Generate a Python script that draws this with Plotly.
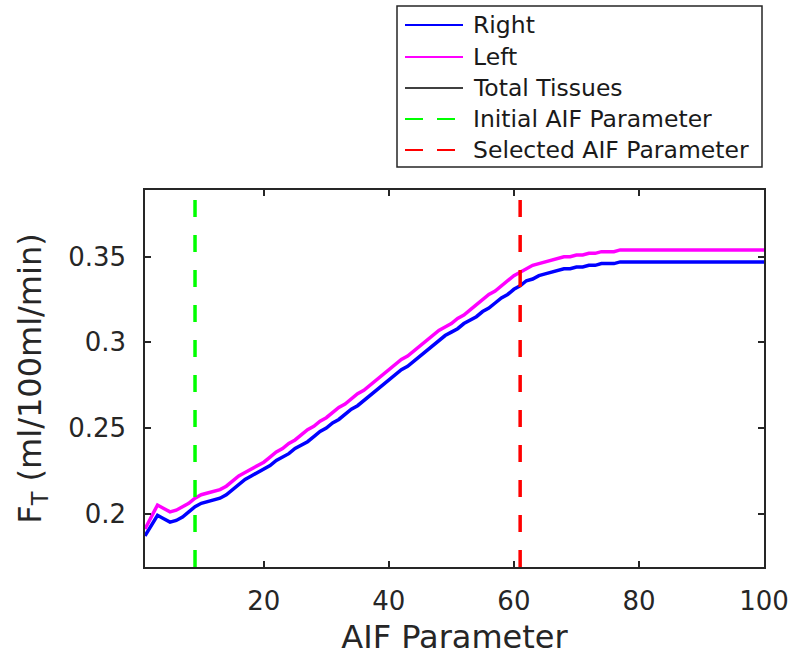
import plotly.graph_objects as go

# AIF parameter sweep
aif_param = list(range(1, 101))

# Flow estimates F_T for each hemisphere (ml/100ml/min)
right_ft = [
    0.187, 0.193, 0.199, 0.197, 0.195, 0.196, 0.198, 0.201, 0.204, 0.206,
    0.207, 0.208, 0.209, 0.211, 0.214, 0.217, 0.220, 0.222, 0.224, 0.226,
    0.228, 0.231, 0.233, 0.235, 0.238, 0.240, 0.242, 0.245, 0.248, 0.250,
    0.253, 0.255, 0.258, 0.261, 0.263, 0.266, 0.269, 0.272, 0.275, 0.278,
    0.281, 0.284, 0.286, 0.289, 0.292, 0.295, 0.298, 0.301, 0.304, 0.306,
    0.308, 0.311, 0.313, 0.315, 0.318, 0.320, 0.323, 0.326, 0.328, 0.331,
    0.333, 0.336, 0.337, 0.339, 0.340, 0.341, 0.342, 0.343, 0.343, 0.344,
    0.344, 0.345, 0.345, 0.346, 0.346, 0.346, 0.347, 0.347, 0.347, 0.347,
    0.347, 0.347, 0.347, 0.347, 0.347, 0.347, 0.347, 0.347, 0.347, 0.347,
    0.347, 0.347, 0.347, 0.347, 0.347, 0.347, 0.347, 0.347, 0.347, 0.347,
]
left_ft = [
    0.191, 0.198, 0.205, 0.203, 0.201, 0.202, 0.204, 0.206, 0.209, 0.211,
    0.212, 0.213, 0.214, 0.216, 0.219, 0.222, 0.224, 0.226, 0.228, 0.230,
    0.233, 0.236, 0.238, 0.241, 0.243, 0.246, 0.249, 0.251, 0.254, 0.256,
    0.259, 0.262, 0.264, 0.267, 0.270, 0.272, 0.275, 0.278, 0.281, 0.284,
    0.287, 0.290, 0.292, 0.295, 0.298, 0.301, 0.304, 0.307, 0.309, 0.311,
    0.314, 0.316, 0.319, 0.322, 0.325, 0.328, 0.330, 0.333, 0.336, 0.339,
    0.341, 0.343, 0.345, 0.346, 0.347, 0.348, 0.349, 0.350, 0.350, 0.351,
    0.351, 0.352, 0.352, 0.353, 0.353, 0.353, 0.354, 0.354, 0.354, 0.354,
    0.354, 0.354, 0.354, 0.354, 0.354, 0.354, 0.354, 0.354, 0.354, 0.354,
    0.354, 0.354, 0.354, 0.354, 0.354, 0.354, 0.354, 0.354, 0.354, 0.354,
]
# Whole-tissue curve lies under the right-hemisphere curve
total_ft = list(right_ft)

initial_param = 9
selected_param = 61

x_range = [1, 100]
y_range = [0.1688, 0.389]
x_ticks = [20, 40, 60, 80, 100]
y_ticks = [0.2, 0.25, 0.3, 0.35]
y_tick_text = ["0.2", "0.25", "0.3", "0.35"]

series_names = ["Right", "Left", "Total Tissues",
                "Initial AIF Parameter", "Selected AIF Parameter"]
series_colors = ["#0000ff", "#ff00ff", "#000000", "#00ff00", "#ff0000"]

AXIS = "#262626"
FONT = "DejaVu Sans"
DASH = "17px,18px"

W, H = 792, 656
M_L, M_R, M_T, M_B = 145, 28, 190, 89
PW, PH = W - M_L - M_R, H - M_T - M_B

fig = go.Figure()

fig.add_trace(go.Scatter(x=aif_param, y=total_ft, mode="lines", name=series_names[2],
                         line=dict(color=series_colors[2], width=1.5)))
fig.add_trace(go.Scatter(x=aif_param, y=right_ft, mode="lines", name=series_names[0],
                         line=dict(color=series_colors[0], width=3.5)))
fig.add_trace(go.Scatter(x=aif_param, y=left_ft, mode="lines", name=series_names[1],
                         line=dict(color=series_colors[1], width=3.5)))
fig.add_trace(go.Scatter(x=[initial_param, initial_param], y=y_range, mode="lines",
                         name=series_names[3],
                         line=dict(color=series_colors[3], width=3.5, dash=DASH)))
fig.add_trace(go.Scatter(x=[selected_param, selected_param], y=y_range, mode="lines",
                         name=series_names[4],
                         line=dict(color=series_colors[4], width=3.5, dash=DASH)))


# Legend box above the axes, laid out in pixels and converted to paper units
def px_x(px):
    return (px - M_L) / PW


def px_y(py):
    return (H - M_B - py) / PH


shapes = [dict(type="rect", xref="paper", yref="paper",
               x0=px_x(397), x1=px_x(762), y0=px_y(167), y1=px_y(6),
               line=dict(color=AXIS, width=1.5), fillcolor="white", layer="above")]
annotations = []
row_y = [25, 57, 88, 119, 150]
for i, (name, color) in enumerate(zip(series_names, series_colors)):
    yy = px_y(row_y[i])
    dashed = i >= 3
    shapes.append(dict(
        type="line", xref="paper", yref="paper",
        x0=px_x(405), x1=px_x(456 if dashed else 463), y0=yy, y1=yy,
        line=dict(color=color, width=1.5 if i == 2 else 2,
                  dash="18px,14px" if dashed else "solid"),
        layer="above",
    ))
    annotations.append(dict(
        text=name, xref="paper", yref="paper", x=px_x(471), y=yy,
        xanchor="left", yanchor="middle", showarrow=False,
        font=dict(family=FONT, size=23.5, color="#1a1a1a"),
    ))

axis_common = dict(
    showline=True, linecolor=AXIS, linewidth=1.5, mirror="ticks",
    ticks="inside", ticklen=6, tickcolor=AXIS, tickwidth=1.5,
    showgrid=False, zeroline=False, automargin=False,
    tickfont=dict(family=FONT, size=26, color=AXIS),
)

fig.update_layout(
    width=W, height=H,
    margin=dict(l=M_L, r=M_R, t=M_T, b=M_B),
    paper_bgcolor="white", plot_bgcolor="white",
    font=dict(family=FONT, color=AXIS),
    showlegend=False,
    shapes=shapes,
    annotations=annotations,
    xaxis=dict(range=x_range, tickvals=x_ticks, ticklabelstandoff=10,
               title=dict(text="AIF Parameter", font=dict(family=FONT, size=32, color=AXIS),
                          standoff=12),
               **axis_common),
    yaxis=dict(range=y_range, tickvals=y_ticks, ticktext=y_tick_text, ticklabelstandoff=12,
               title=dict(text="F<sub>T</sub> (ml/100ml/min)",
                          font=dict(family=FONT, size=32, color=AXIS), standoff=17),
               **axis_common),
)

fig.write_html("out.html")
